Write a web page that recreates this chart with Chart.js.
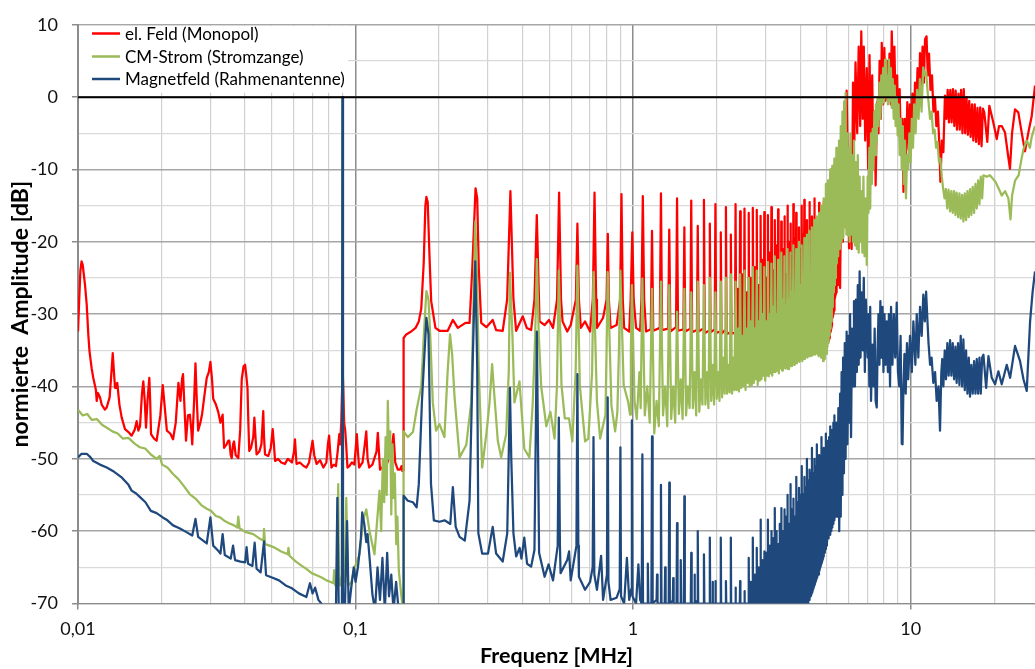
<!DOCTYPE html>
<html>
<head>
<meta charset="utf-8">
<script src="https://cdn.jsdelivr.net/npm/chart.js@4"></script>
<style>
  html, body { margin: 0; padding: 0; background: #fff; }
  #wrap { width: 1035px; height: 669px; overflow: hidden; position: relative; }
</style>
</head>
<body>
<div id="wrap"><canvas id="spectrumChart"></canvas></div>
<script>
// Legend texts and axis labels
const seriesNames = ['el. Feld (Monopol)', 'CM-Strom (Stromzange)', 'Magnetfeld (Rahmenantenne)'];
const decadeFreqs = [0.01, 0.1, 1, 10];
const decadeLabels = ['0,01', '0,1', '1', '10'];

// el. Feld (Monopol): [frequency MHz, dB]
const elFeldLow = [[0.0100,-32.4],[0.0101,-28],[0.0102,-24],[0.0103,-22.7],[0.0104,-23.2],[0.0106,-26],[0.01075,-28.7],[0.0109,-33],[0.0110,-35.1],[0.0112,-37.5],[0.01135,-38.8],[0.0116,-40.5],[0.01168,-42],[0.0118,-40.9],[0.0120,-41.5],[0.01217,-42.5],[0.0125,-43.2],[0.01269,-42.9],[0.0130,-41.5],[0.0132,-38],[0.01334,-35.4],[0.0135,-38.5],[0.0136,-40.2],[0.0137,-39.8],[0.01385,-39.5],[0.0141,-42.5],[0.01437,-44.3],[0.01477,-45.9],[0.0152,-46.3],[0.0156,-46.8],[0.0160,-46],[0.01627,-44.8],[0.0165,-46.1],[0.01673,-45.5],[0.0170,-41],[0.01719,-39.3],[0.0174,-42],[0.01758,-45.7],[0.0178,-42],[0.01807,-38.8],[0.0182,-42],[0.01833,-46.6],[0.0188,-47.2],[0.0192,-47.5],[0.0198,-44],[0.0202,-39.8],[0.0205,-42.5],[0.0209,-46.1],[0.0215,-46.5],[0.0220,-47.3],[0.0225,-45],[0.0230,-39.5],[0.0234,-42],[0.0237,-39],[0.0239,-38.3],[0.0242,-43],[0.0245,-47.5],[0.0249,-44],[0.0253,-43.9],[0.0256,-46],[0.0258,-48],[0.0262,-42],[0.0265,-36.8],[0.0268,-42],[0.0271,-46.1],[0.0276,-45],[0.0280,-43.8],[0.0286,-41],[0.0291,-38.8],[0.0296,-38],[0.0300,-36.6],[0.0304,-39],[0.0307,-41.7],[0.0314,-42.5],[0.0320,-43.5],[0.0326,-45],[0.0332,-43.9],[0.0336,-48.5],[0.0343,-48],[0.0348,-47.5],[0.0351,-47.5],[0.0355,-49.5],[0.0358,-49.9],[0.0362,-48],[0.0365,-47.6],[0.0370,-49.5],[0.0378,-49.9],[0.0384,-46],[0.0389,-39],[0.0395,-37.2],[0.0400,-37],[0.0404,-38.5],[0.0408,-40.2],[0.0411,-45],[0.0414,-48.9],[0.0420,-48.5],[0.0428,-47],[0.0432,-44.3],[0.0436,-47],[0.0440,-49.4],[0.0450,-49],[0.0458,-48],[0.0465,-43.4],[0.0468,-47],[0.0472,-49.4],[0.0485,-49.6],[0.0495,-48.5],[0.0503,-45.9],[0.0508,-48],[0.0513,-50.3],[0.0525,-50],[0.0540,-50.5],[0.0557,-50.7],[0.0570,-50],[0.0590,-50.5],[0.0600,-49],[0.0605,-47.3],[0.0610,-49.5],[0.0613,-50.7],[0.0630,-50.5],[0.0650,-51],[0.0665,-51.2],[0.0680,-50.5],[0.0690,-49],[0.0700,-47.5],[0.0710,-49.5],[0.0724,-50.7],[0.0745,-50.2],[0.0766,-51.2],[0.0785,-50.5],[0.0795,-48],[0.0803,-46.8],[0.0810,-49],[0.0819,-51.2],[0.0835,-50.8],[0.0850,-51],[0.0862,-49],[0.0874,-46.6],[0.0880,-48],[0.0888,-45],[0.0895,-40],[0.0898,-37.5],[0.0903,-40],[0.0910,-45],[0.0918,-46.1],[0.0925,-48],[0.0935,-51.2],[0.0950,-51],[0.0970,-50.5],[0.0990,-50.8],[0.1011,-46.6],[0.1020,-49],[0.1030,-51.2],[0.1060,-50.5],[0.1080,-48],[0.1093,-46.2],[0.1105,-50],[0.1120,-51.2],[0.1150,-50.8],[0.1190,-49],[0.1203,-46.4],[0.1225,-51.5],[0.1260,-51],[0.1300,-50.6],[0.1345,-49],[0.1370,-46.6],[0.1390,-50.5],[0.1420,-51.5],[0.1446,-51.5],[0.1465,-51],[0.1475,-51.7]];
const elFeldMid = [[0.1489,-51.6],[0.1490,-33.3],[0.1523,-32.8],[0.1587,-32.4],[0.1645,-31.9],[0.169,-31],[0.1725,-29.2],[0.176,-23],[0.1785,-15],[0.18,-13.8],[0.182,-14.5],[0.1847,-22],[0.1873,-28.2],[0.194,-31.9],[0.2006,-32.3],[0.2148,-32.3],[0.2242,-30.8],[0.2336,-31.9],[0.249,-31.2],[0.2575,-31.2],[0.2632,-24],[0.2706,-12.6],[0.2744,-14],[0.278,-23.7],[0.2837,-31.2],[0.296,-31.8],[0.312,-30.8],[0.321,-32.2],[0.339,-32.3],[0.3517,-28],[0.3614,-13],[0.3706,-28],[0.379,-32.3],[0.4004,-30.3],[0.414,-31.9],[0.4292,-32.2],[0.4412,-28],[0.4498,-16.3],[0.4602,-31],[0.480,-31.5],[0.4978,-30.8],[0.5147,-31.9],[0.532,-28],[0.5413,-13.2],[0.550,-28],[0.557,-31],[0.5791,-32.4],[0.596,-31.5],[0.622,-28],[0.63,-17.5],[0.638,-28],[0.648,-31.9],[0.6714,-31],[0.700,-32.4],[0.716,-28],[0.7262,-13.2],[0.736,-28],[0.741,-31.9],[0.7797,-30.5],[0.8025,-28],[0.8108,-18.9],[0.818,-28],[0.8296,-31.9],[0.8724,-31.5],[0.898,-28],[0.908,-13.4],[0.918,-28],[0.9284,-31.9],[0.9683,-32.4],[0.980,-28],[0.9935,-18.7],[1.005,-28],[1.025,-31.9],[1.06,-32.3],[1.072,-28],[1.084,-13.7],[1.096,-28],[1.114,-32.4]];
const elFeldComb = [[1.158,-32.1],[1.17,-18.5],[1.182,-32.3],[1.248,-31.9],[1.26,-13.3],[1.272,-32.2],[1.338,-32.0],[1.35,-18.3],[1.362,-32.4],[1.428,-31.8],[1.44,-14.0],[1.452,-32.3],[1.518,-32.1],[1.53,-18.0],[1.542,-32.4],[1.608,-32.0],[1.62,-14.3],[1.632,-32.5],[1.698,-32.2],[1.71,-17.8],[1.722,-32.4],[1.788,-32.0],[1.80,-14.2],[1.812,-32.6],[1.878,-32.3],[1.89,-17.5],[1.902,-32.5],[1.968,-32.1],[1.98,-14.8],[1.992,-32.6],[2.058,-32.4],[2.07,-18.7],[2.082,-32.7],[2.148,-32.2],[2.16,-15.2],[2.172,-32.8],[2.238,-32.5],[2.25,-19.0],[2.262,-32.7],[2.328,-32.6],[2.34,-14.8],[2.352,-33.0],[2.38,-32.8],[2.385,-26.5],[2.39,-33.1],[2.418,-32.9],[2.43,-15.8],[2.442,-33.0],[2.47,-33.1],[2.475,-24.5],[2.48,-33.2],[2.508,-32.7],[2.52,-15.4],[2.532,-33.1],[2.56,-32.9],[2.565,-27],[2.57,-33.2],[2.598,-33.0],[2.61,-16.0],[2.622,-33.2],[2.65,-33.1],[2.655,-25],[2.66,-33.3],[2.688,-32.8],[2.70,-15.3],[2.712,-33.1],[2.74,-33.2],[2.745,-23.5],[2.75,-33.3],[2.778,-33.0],[2.79,-15.6],[2.802,-33.3],[2.83,-33.1],[2.835,-26],[2.84,-33.4],[2.868,-33.1],[2.88,-16.4],[2.892,-33.2],[2.92,-33.3],[2.925,-22.5],[2.93,-33.4],[2.958,-33.0],[2.97,-15.9],[2.982,-33.4],[3.01,-33.2],[3.015,-25],[3.02,-33.5],[3.048,-33.2],[3.06,-16.3],[3.072,-33.3],[3.10,-33.4],[3.105,-21.5],[3.11,-33.5],[3.138,-33.1],[3.15,-15.2],[3.162,-33.4],[3.19,-33.3],[3.195,-24],[3.20,-33.6],[3.228,-33.3],[3.24,-17.0],[3.252,-33.5],[3.28,-33.4],[3.285,-20.5],[3.29,-33.6],[3.318,-33.2],[3.33,-15.5],[3.342,-33.5],[3.37,-33.5],[3.375,-23],[3.38,-33.7],[3.408,-33.4],[3.42,-17.2],[3.432,-33.6],[3.46,-33.5],[3.465,-21],[3.47,-33.7],[3.498,-33.3],[3.51,-16.5],[3.522,-33.6],[3.55,-33.6],[3.555,-24.5],[3.56,-33.8],[3.588,-33.5],[3.60,-15.0],[3.612,-33.7],[3.64,-33.6],[3.645,-20],[3.65,-33.8],[3.678,-33.4],[3.69,-17.5],[3.702,-33.8],[3.73,-33.7],[3.735,-22],[3.74,-33.9],[3.768,-33.6],[3.78,-14.8],[3.792,-33.7],[3.82,-33.8],[3.825,-19.5],[3.83,-33.9],[3.858,-33.5],[3.87,-16.0],[3.882,-33.9],[3.91,-33.7],[3.915,-23],[3.92,-34.0],[3.948,-33.6],[3.96,-18.0],[3.972,-33.8],[4.00,-33.9],[4.005,-21],[4.01,-34.0],[4.038,-33.7],[4.05,-15.0],[4.062,-34.0],[4.09,-33.8],[4.095,-19],[4.10,-34.1],[4.128,-33.8],[4.14,-14.2],[4.152,-33.9],[4.218,-34.0],[4.23,-17.0],[4.242,-33.8],[4.308,-33.9],[4.32,-14.5],[4.332,-34.1],[4.398,-33.7],[4.41,-16.5],[4.422,-34.0],[4.488,-34.1],[4.50,-14.0],[4.512,-33.8],[4.578,-33.9],[4.59,-18.0],[4.602,-34.2],[4.668,-33.8],[4.68,-14.6],[4.692,-34.0],[4.758,-34.1],[4.77,-20.0],[4.782,-33.9],[4.848,-33.7],[4.86,-14.4],[4.872,-34.1],[4.938,-33.9],[4.95,-16.0],[4.962,-33.6],[5.028,-33.5],[5.04,-14.0],[5.052,-33.8],[5.118,-33.2],[5.13,-19.0],[5.142,-32.5],[5.208,-31.5],[5.22,-15.0],[5.232,-30.5],[5.298,-29.5],[5.31,-22.0],[5.322,-28.0],[5.388,-27.0],[5.40,-14.7],[5.41,-24.0]];
const elFeldHigh = [[5.42,-11.7],[5.47,-26],[5.52,-14],[5.57,-26.4],[5.63,-8],[5.70,-20],[5.78,-3],[5.82,-15],[5.88,0.9],[5.94,-10],[6.00,-20.9],[6.06,-8],[6.13,-21],[6.20,2],[6.27,-6],[6.33,4.8],[6.42,-5],[6.50,7],[6.58,-4],[6.64,9.1],[6.72,-3],[6.78,7],[6.86,-6],[6.95,4],[7.03,-9.9],[7.11,5.8],[7.19,-8],[7.27,3],[7.35,-10],[7.42,-2],[7.48,-12.2],[7.57,-0.7],[7.66,-5],[7.73,5],[7.81,-3],[7.87,7.5],[7.96,-1],[8.04,6.8],[8.12,-0.5],[8.22,5],[8.31,0],[8.39,6],[8.48,-1],[8.55,9.1],[8.65,1],[8.74,7],[8.83,-2],[8.94,3],[9.04,-5],[9.13,1.1],[9.23,-8],[9.33,-3],[9.42,-13.1],[9.52,-3],[9.62,-8],[9.73,-0.7],[9.84,-7.2],[9.94,-1],[10.04,-6],[10.15,0.5],[10.27,-4],[10.37,2],[10.47,-2],[10.59,4],[10.70,-1],[10.81,6.1],[10.92,1],[11.04,7],[11.16,2],[11.27,8],[11.41,8.4],[11.53,3],[11.65,6],[11.79,1],[11.94,3],[12.08,-2],[12.23,0],[12.38,-4],[12.54,-2],[12.70,-7],[12.80,-11.7],[12.96,-6],[13.12,-7.6],[13.29,0.2],[13.45,-3],[13.60,1],[13.74,-3.5],[13.90,1],[14.05,-3.5],[14.21,1.1],[14.37,-4],[14.53,0.9],[14.69,-4.5],[14.87,0.5],[15.03,-4.5],[15.20,1],[15.37,-5],[15.54,1.1],[15.72,-5],[15.90,0],[16.08,-5.2],[16.26,-0.5],[16.45,-5.5],[16.64,-1],[16.82,-6],[17.02,-1],[17.21,-6.2],[17.41,-1.5],[17.61,-6.5],[17.81,-1.4],[18.01,-6.8],[18.22,-1.6],[18.42,-2.1],[18.89,-6.2],[19.21,-1.2],[19.86,-3.5],[20.43,-5.8],[20.82,-4],[21.29,-4],[21.88,-4.9],[22.43,-8],[22.80,-9.9],[23.19,-5],[23.77,-1.7],[24.43,-2.1],[25.13,-4.9],[25.82,-7.5],[26.55,-4.9],[27.31,-2.6],[28.06,1.6]];

// CM-Strom (Stromzange)
const cmStromLow = [[0.0100,-43.2],[0.0104,-44],[0.0108,-43.8],[0.0112,-44.6],[0.0117,-44.5],[0.0122,-45.3],[0.0127,-45.7],[0.0133,-46.2],[0.0139,-46.5],[0.0145,-47.2],[0.0152,-47.1],[0.0160,-47.9],[0.0167,-48.4],[0.0175,-48.6],[0.0183,-49.4],[0.0192,-50],[0.0197,-49.6],[0.0201,-50.8],[0.0210,-51.2],[0.0220,-52.1],[0.0230,-52.8],[0.0240,-53.7],[0.0253,-54.9],[0.0265,-55.5],[0.0278,-56.4],[0.0291,-56.9],[0.0302,-57.2],[0.0314,-57.9],[0.0325,-58.1],[0.0338,-58.6],[0.0350,-58.9],[0.0365,-59.2],[0.0375,-59.5],[0.0378,-58],[0.0382,-59.6],[0.0400,-60.1],[0.0428,-60.4],[0.0450,-61],[0.0466,-61.3],[0.0468,-59.7],[0.0472,-61.8],[0.0490,-62],[0.0506,-62.2],[0.0540,-62.8],[0.0570,-63.2],[0.0573,-62.3],[0.0578,-63.4],[0.0610,-64.2],[0.0640,-64.8],[0.0665,-65.2],[0.0695,-65.8],[0.0724,-66.1],[0.0755,-66.4],[0.0786,-66.8],[0.0810,-67],[0.0832,-67.2],[0.0838,-65.4],[0.0845,-67.5],[0.0858,-67],[0.0866,-53.5],[0.0872,-67],[0.0880,-67.5],[0.0893,-66],[0.0897,0],[0.0901,-66],[0.0915,-67],[0.0926,-55.4],[0.0940,-67.5],[0.0965,-67.1],[0.0992,-65],[0.1034,-63.2],[0.1063,-58.6],[0.1093,-57],[0.1123,-60],[0.117,-63.2],[0.122,-54.4],[0.1237,-60],[0.1254,-50],[0.1268,-56],[0.1283,-47],[0.1295,-55],[0.1307,-42],[0.1320,-50],[0.1334,-46.2],[0.1345,-57.7],[0.1358,-48],[0.137,-55.4],[0.1385,-52],[0.1402,-61.8],[0.1415,-58],[0.1432,-65.5],[0.146,-68.7],[0.1485,-71],[0.1489,-71]];
const cmStromMid = [[0.1490,-46.2],[0.1543,-47],[0.161,-46.3],[0.166,-43.2],[0.1725,-40],[0.176,-33.3],[0.18,-26.8],[0.1832,-28],[0.186,-33.3],[0.1898,-42.2],[0.195,-46.1],[0.2006,-45.2],[0.209,-47],[0.2148,-37.8],[0.219,-32.8],[0.2229,-35.6],[0.2273,-41.4],[0.237,-49.8],[0.2505,-48.1],[0.2611,-42.2],[0.266,-28.4],[0.27,-17.2],[0.2736,-23.9],[0.278,-37.8],[0.2859,-51.2],[0.296,-46.6],[0.304,-42.2],[0.3105,-36.9],[0.316,-41],[0.3255,-47.5],[0.3347,-49.8],[0.3489,-46.6],[0.3566,-37.8],[0.36,-24.3],[0.3675,-33],[0.3736,-42.2],[0.3896,-39.3],[0.4055,-48.6],[0.4231,-49.8],[0.4351,-42.2],[0.4438,-33],[0.45,-22.4],[0.4574,-33],[0.4666,-40],[0.4869,-45.5],[0.5036,-43.5],[0.5213,-47.2],[0.5318,-39.8],[0.54,-24],[0.5521,-39.8],[0.5675,-44.4],[0.5876,-44.4],[0.6041,-47.6],[0.6209,-38],[0.63,-23.3],[0.6427,-39.8],[0.6714,-47.6],[0.6897,-47.2],[0.7119,-38],[0.72,-24.2],[0.741,-42.1],[0.7608,-47.2],[0.7952,-43.9],[0.8025,-35],[0.81,-24.2],[0.8354,-42.6],[0.8616,-46.2],[0.8776,-43.5],[0.8893,-35],[0.90,-24],[0.9247,-39.8],[0.9594,-42.1],[0.975,-43.9],[0.982,-35],[0.99,-26],[1.012,-42],[1.031,-44.5],[1.054,-38],[1.065,-43]];
const cmStromComb = [[1.08,-25.1],[1.102,-44],[1.125,-40],[1.148,-45],[1.17,-26.5],[1.192,-46.5],[1.215,-42],[1.238,-45.5],[1.26,-25.5],[1.282,-44],[1.305,-40],[1.328,-45.5],[1.35,-26],[1.372,-44.5],[1.395,-40],[1.418,-45],[1.44,-29.7],[1.462,-43.8],[1.485,-39],[1.508,-44.5],[1.53,-26.5],[1.552,-44],[1.575,-40],[1.598,-43],[1.62,-27],[1.642,-43],[1.665,-38],[1.688,-44],[1.71,-25.5],[1.732,-43.5],[1.755,-39],[1.778,-42.5],[1.80,-26],[1.822,-42.5],[1.845,-38],[1.868,-43],[1.89,-25],[1.912,-42],[1.935,-37],[1.958,-42.5],[1.98,-27],[2.002,-41.7],[2.025,-38],[2.048,-42],[2.07,-25.5],[2.092,-41.5],[2.115,-36],[2.138,-41],[2.16,-25],[2.182,-41],[2.205,-37],[2.228,-40.8],[2.25,-24.5],[2.272,-41],[2.295,-36],[2.318,-40.5],[2.34,-25.5],[2.362,-40.5],[2.385,-32],[2.408,-40.7],[2.43,-24.5],[2.452,-40.2],[2.475,-33],[2.498,-40],[2.52,-24],[2.542,-40.5],[2.565,-32],[2.588,-39.5],[2.61,-25],[2.632,-40],[2.655,-31],[2.678,-39.8],[2.70,-23.5],[2.722,-39.5],[2.745,-32],[2.768,-39],[2.79,-24],[2.812,-39.8],[2.835,-31],[2.858,-39.2],[2.88,-23],[2.902,-39],[2.925,-30],[2.948,-38.5],[2.97,-23.5],[2.992,-39.2],[3.015,-31],[3.038,-38.5],[3.06,-22.8],[3.082,-38.6],[3.105,-30],[3.128,-38.2],[3.15,-23],[3.172,-38.5],[3.195,-29],[3.218,-38],[3.24,-22],[3.262,-38],[3.285,-30],[3.308,-37.8],[3.33,-22.5],[3.352,-38.2],[3.375,-29],[3.398,-37.5],[3.42,-21.5],[3.442,-37.8],[3.465,-28],[3.488,-37.3],[3.51,-22],[3.532,-37.5],[3.555,-29],[3.578,-37.4],[3.60,-21],[3.622,-37.6],[3.645,-28],[3.668,-37],[3.69,-21.5],[3.712,-37.2],[3.735,-27],[3.758,-36.8],[3.78,-20.5],[3.802,-37],[3.825,-28],[3.848,-36.8],[3.87,-21],[3.892,-36.8],[3.915,-27],[3.938,-36.5],[3.96,-20],[3.982,-36.6],[4.005,-26],[4.028,-36.2],[4.05,-20.5],[4.072,-36.5],[4.095,-27],[4.118,-36.2],[4.14,-19.5],[4.162,-36.2],[4.185,-26],[4.208,-35.9],[4.23,-19],[4.252,-36],[4.275,-25],[4.298,-35.8],[4.32,-18.5],[4.342,-35.8],[4.365,-26],[4.388,-35.6],[4.41,-18],[4.432,-35.7],[4.455,-25],[4.478,-35.5],[4.50,-17],[4.522,-35.6],[4.545,-24],[4.568,-35.4],[4.59,-16.5],[4.612,-35.5],[4.635,-24],[4.658,-35.8],[4.68,-16],[4.702,-35.6],[4.725,-23],[4.748,-36],[4.77,-15],[4.792,-36],[4.815,-23],[4.838,-36.5],[4.86,-14],[4.882,-36.2],[4.905,-22],[4.928,-35.5],[4.95,-12],[4.972,-35.5],[4.995,-21],[5.018,-34.5],[5.04,-11.5],[5.062,-34],[5.085,-20],[5.108,-33],[5.13,-10],[5.152,-32],[5.175,-19],[5.198,-31],[5.22,-9.5],[5.242,-29],[5.265,-18],[5.288,-27],[5.31,-8.5],[5.332,-26],[5.355,-17],[5.378,-25],[5.40,-7],[5.42,-23]];
const cmStromHigh = [[5.45,-8],[5.48,-22],[5.52,-6],[5.56,-21],[5.6,-4],[5.64,-20],[5.68,-2],[5.72,-19.5],[5.76,-0.6],[5.8,-18],[5.83,0.6],[5.87,-19],[5.91,-5],[5.95,-19.1],[5.99,-7],[6.03,-20],[6.07,-5],[6.11,-19],[6.15,-8],[6.2,-20],[6.25,-6],[6.3,-20.5],[6.35,-9],[6.4,-21],[6.45,-8],[6.5,-21.5],[6.55,-11],[6.6,-20],[6.65,-13],[6.7,-21.5],[6.76,-11],[6.82,-22],[6.88,-14],[6.95,-23.2],[7.0,-11],[7.05,-16],[7.1,-7],[7.15,-15.4],[7.2,-5],[7.25,-12],[7.3,-4.4],[7.35,-10],[7.4,-2],[7.45,-8],[7.5,-1],[7.55,-6.2],[7.6,0],[7.66,-4],[7.72,2],[7.78,-3],[7.84,3],[7.9,-1],[7.96,4],[8.02,-0.7],[8.09,5.2],[8.15,0],[8.22,3],[8.28,-1],[8.35,5.2],[8.42,-0.5],[8.49,4],[8.55,-1.5],[8.62,2.5],[8.69,-3],[8.76,1.6],[8.83,-4],[8.91,0],[8.98,-5.3],[9.05,-1],[9.13,-8],[9.21,-3],[9.29,-10],[9.37,-4],[9.45,-12],[9.54,-6],[9.62,-14],[9.71,-8],[9.8,-10],[9.9,-5],[10.0,-9],[10.1,-3],[10.2,-7],[10.3,-1],[10.42,-5],[10.55,1],[10.68,-3],[10.8,2.5],[10.95,-2],[11.1,4.1],[11.22,3],[11.37,3.5],[11.5,1],[11.62,-1],[11.75,-3],[11.9,-2],[12.05,-5],[12.2,-4.5],[12.35,-7],[12.5,-6.2],[12.65,-9],[12.8,-8.5],[12.95,-11],[13.1,-12.7],[13.25,-14],[13.4,-12.7],[13.55,-15.4],[13.7,-12.8],[13.87,-15.8],[14.02,-13],[14.18,-16],[14.34,-13],[14.5,-16.3],[14.65,-13.2],[14.82,-16.6],[14.99,-13.3],[15.15,-16.8],[15.33,-13.5],[15.49,-17.2],[15.67,-13.3],[15.84,-17],[16.02,-13],[16.2,-16.6],[16.37,-12.7],[16.55,-16.3],[16.74,-12.4],[16.93,-16],[17.12,-12],[17.31,-15.4],[17.5,-11.5],[17.7,-14.8],[17.89,-11],[18.1,-14],[18.29,-10.8],[18.8,-11],[19.3,-10.8],[19.8,-11.3],[20.2,-11.7],[20.8,-12.7],[21.3,-13.6],[21.9,-13],[22.5,-14],[22.9,-16.9],[23.2,-13.6],[23.8,-11.5],[24.5,-10.8],[25.1,-8.5],[25.5,-7.2],[26.2,-6],[26.9,-7],[27.3,-5.5],[28.06,-4]];

// Magnetfeld (Rahmenantenne)
const magnetLow = [[0.0100,-49.8],[0.0103,-49.3],[0.01075,-49.3],[0.0111,-49.8],[0.01135,-50.3],[0.0120,-50.8],[0.01269,-51.2],[0.0135,-51.8],[0.0144,-52.6],[0.0152,-53.6],[0.0156,-54.4],[0.0162,-54.8],[0.01673,-55.3],[0.0175,-56],[0.0183,-57.2],[0.0192,-57.5],[0.0202,-58.1],[0.0210,-58.5],[0.0220,-59.2],[0.0232,-59.6],[0.0245,-60.1],[0.0258,-60.6],[0.0265,-58.3],[0.0271,-60.8],[0.0280,-61.2],[0.0291,-61.7],[0.0300,-58.1],[0.0307,-62],[0.0320,-62.7],[0.0326,-63.1],[0.0332,-60.4],[0.0338,-63.3],[0.0355,-63.8],[0.0362,-62],[0.0368,-64],[0.0385,-64.2],[0.0400,-64.3],[0.0405,-62.2],[0.0410,-64.5],[0.0425,-64.8],[0.0433,-61.6],[0.0440,-65.2],[0.0455,-65.7],[0.0468,-61.4],[0.0476,-66.1],[0.0500,-66.4],[0.0530,-66.8],[0.0560,-67.5],[0.0590,-67.9],[0.0625,-68.6],[0.0665,-69.1],[0.0685,-67.2],[0.0700,-68.6],[0.0715,-67.8],[0.0735,-69.5],[0.0760,-70.2],[0.0790,-71],[0.0820,-71],[0.0850,-70.6],[0.0860,-55.4],[0.0870,-71],[0.0893,-71],[0.0897,0],[0.0901,-71],[0.0915,-71],[0.0932,-58.6],[0.0945,-71],[0.0965,-67.8],[0.0985,-65],[0.1000,-67],[0.1020,-65],[0.1045,-61],[0.1057,-57.4],[0.1075,-59],[0.1093,-61.5],[0.1105,-60.4],[0.1125,-64],[0.1150,-68.7],[0.1175,-71],[0.1200,-65],[0.1225,-69.5],[0.1250,-63.7],[0.1275,-71],[0.1300,-63],[0.1320,-69],[0.1345,-66],[0.1370,-71],[0.1400,-67],[0.1430,-71],[0.1489,-71]];
const magnetMid = [[0.149,-55.1],[0.1543,-55.8],[0.161,-56],[0.166,-56.7],[0.169,-53.5],[0.1735,-42],[0.18,-30.5],[0.1832,-32.8],[0.187,-53.5],[0.1915,-58.5],[0.2006,-58.7],[0.2093,-58.5],[0.2195,-59],[0.2242,-53.9],[0.2295,-59.4],[0.237,-60.8],[0.2475,-61.3],[0.2575,-55.8],[0.264,-37.4],[0.27,-22.7],[0.2744,-37.4],[0.277,-60.3],[0.2859,-63.1],[0.3,-63.1],[0.312,-59.4],[0.321,-63.1],[0.339,-64.2],[0.352,-60.3],[0.357,-48],[0.36,-40.2],[0.364,-50],[0.3706,-60.3],[0.379,-63.5],[0.39,-62.3],[0.396,-63.8],[0.4055,-60.9],[0.415,-64.5],[0.4292,-64.9],[0.4412,-62.6],[0.4465,-45],[0.45,-32.4],[0.4535,-45],[0.4585,-63],[0.480,-66.3],[0.496,-64.6],[0.5147,-66.8],[0.535,-62],[0.54,-44.3],[0.545,-62],[0.548,-65.8],[0.5791,-64],[0.588,-62.8],[0.596,-66.8],[0.625,-62],[0.63,-38.3],[0.635,-62],[0.638,-66.3],[0.6714,-68.1],[0.700,-67],[0.715,-65],[0.72,-47],[0.725,-66],[0.741,-68.1],[0.767,-63.4],[0.7797,-69.5],[0.805,-66],[0.81,-41.5],[0.815,-67],[0.8296,-69.5],[0.8724,-69.2],[0.895,-68],[0.90,-48.4],[0.905,-69],[0.9284,-70],[0.95,-63.7],[0.9683,-69.5],[0.985,-68],[0.99,-44.7],[0.995,-69],[1.025,-70],[1.045,-64.6],[1.06,-69.5],[1.074,-70],[1.08,-49.4],[1.086,-70]];
const magnetComb = [[1.125,-70],[1.13,-64.5],[1.135,-70],[1.164,-70],[1.17,-46.9],[1.176,-70],[1.215,-69.5],[1.22,-66],[1.225,-70],[1.254,-70],[1.26,-53.6],[1.266,-70],[1.30,-70],[1.305,-65],[1.31,-70],[1.344,-70],[1.35,-53.3],[1.356,-70],[1.39,-69.6],[1.395,-66.5],[1.40,-70],[1.434,-70],[1.44,-58.9],[1.446,-70],[1.48,-70],[1.485,-64],[1.49,-70],[1.524,-70],[1.53,-55.2],[1.536,-70],[1.614,-70],[1.62,-63],[1.626,-70],[1.66,-70],[1.665,-66],[1.67,-69.5],[1.704,-70],[1.71,-60],[1.716,-70],[1.794,-70],[1.80,-63.2],[1.806,-70],[1.884,-70],[1.89,-60.9],[1.896,-70],[1.93,-70],[1.935,-67],[1.94,-70],[1.974,-70],[1.98,-66.9],[1.986,-70],[2.064,-70],[2.07,-60.9],[2.076,-70],[2.154,-70],[2.16,-66.9],[2.166,-70],[2.244,-70],[2.25,-60.9],[2.256,-70],[2.334,-70],[2.34,-67.8],[2.346,-70],[2.424,-70],[2.43,-66.9],[2.436,-70],[2.514,-70],[2.52,-68.3],[2.526,-70],[2.604,-70],[2.61,-63.7],[2.616,-70],[2.65,-70],[2.655,-67],[2.66,-70],[2.694,-70],[2.70,-60.9],[2.706,-70],[2.74,-70],[2.745,-66],[2.75,-70],[2.784,-70],[2.79,-62.3],[2.796,-70],[2.83,-70],[2.835,-65],[2.84,-70],[2.874,-70],[2.88,-58.4],[2.886,-70],[2.92,-70],[2.925,-64],[2.93,-70],[2.964,-70],[2.97,-62.8],[2.976,-70],[3.01,-70],[3.015,-63],[3.02,-70],[3.054,-70],[3.06,-58.4],[3.066,-70],[3.10,-70],[3.105,-62],[3.11,-70],[3.144,-70],[3.15,-60],[3.156,-70],[3.19,-70],[3.195,-61],[3.20,-70],[3.234,-70],[3.24,-56.8],[3.246,-70],[3.28,-70],[3.285,-60],[3.29,-70],[3.324,-70],[3.33,-61.8],[3.336,-70],[3.37,-70],[3.375,-59],[3.38,-70],[3.414,-70],[3.42,-56.8],[3.426,-70],[3.46,-70],[3.465,-60],[3.47,-70],[3.504,-70],[3.51,-57],[3.516,-70],[3.55,-70],[3.555,-58],[3.56,-70],[3.594,-70],[3.60,-55],[3.606,-70],[3.64,-70],[3.645,-59],[3.65,-70],[3.684,-70],[3.69,-53.5],[3.696,-70],[3.73,-70],[3.735,-57],[3.74,-70],[3.774,-70],[3.78,-55.5],[3.786,-70],[3.82,-70],[3.825,-58],[3.83,-70],[3.864,-70],[3.87,-52.5],[3.876,-70],[3.91,-70],[3.915,-56],[3.92,-70],[3.954,-70],[3.96,-54],[3.966,-70],[4.00,-70],[4.005,-55],[4.01,-70],[4.044,-70],[4.05,-51],[4.056,-70],[4.09,-70],[4.095,-55],[4.10,-70],[4.134,-70],[4.14,-52.5],[4.146,-70],[4.18,-70],[4.185,-54],[4.19,-70],[4.224,-70],[4.23,-50],[4.236,-70],[4.27,-70],[4.275,-53],[4.28,-69.5],[4.314,-69.5],[4.32,-51.5],[4.326,-69],[4.36,-69],[4.365,-52],[4.37,-69],[4.404,-68.5],[4.41,-48.5],[4.416,-68.5],[4.45,-68],[4.455,-52],[4.46,-68],[4.494,-67.5],[4.50,-50],[4.506,-67.5],[4.54,-67],[4.545,-51],[4.55,-67],[4.584,-66.5],[4.59,-48],[4.596,-66.5],[4.63,-66],[4.635,-51],[4.64,-66],[4.674,-65.5],[4.68,-49.5],[4.686,-65.5],[4.72,-65],[4.725,-50],[4.73,-65],[4.764,-64.5],[4.77,-47],[4.776,-64.5],[4.81,-64],[4.815,-50],[4.82,-64],[4.854,-63.5],[4.86,-48.5],[4.866,-63],[4.90,-63],[4.905,-49],[4.91,-62.5],[4.944,-62.5],[4.95,-46.5],[4.956,-62],[4.99,-62],[4.995,-48],[5.00,-61.5],[5.034,-61.5],[5.04,-47.5],[5.046,-61],[5.08,-61],[5.085,-47],[5.09,-60.5],[5.124,-60.5],[5.13,-45.5],[5.136,-60],[5.17,-60],[5.175,-46],[5.18,-59.5],[5.214,-59.5],[5.22,-46],[5.226,-59],[5.26,-59],[5.265,-45],[5.27,-58.5],[5.304,-58.5],[5.31,-44],[5.316,-58],[5.35,-58],[5.355,-45],[5.36,-58],[5.394,-58],[5.40,-45],[5.406,-58]];
const magnetHigh = [[5.45,-58],[5.49,-43],[5.53,-60],[5.57,-41],[5.6,-58],[5.64,-38],[5.68,-55],[5.71,-36],[5.75,-52],[5.79,-34],[5.83,-50],[5.88,-32.4],[5.92,-48],[5.97,-33],[6.01,-45],[6.05,-30],[6.1,-47],[6.15,-32],[6.2,-40],[6.25,-28.2],[6.3,-40],[6.35,-28],[6.4,-38],[6.45,-26],[6.5,-37],[6.55,-24.1],[6.6,-36],[6.66,-27],[6.72,-35],[6.78,-25],[6.84,-38],[6.9,-28],[6.95,-31.5],[7.0,-36],[7.05,-30],[7.1,-40],[7.15,-29],[7.2,-42],[7.27,-34.2],[7.35,-40],[7.42,-32],[7.48,-42],[7.55,-42.9],[7.6,-35],[7.66,-30],[7.72,-37],[7.78,-28.2],[7.85,-36],[7.92,-29],[7.98,-38],[8.05,-30],[8.12,-37],[8.2,-31],[8.28,-38],[8.35,-30],[8.43,-40],[8.5,-29],[8.6,-37],[8.7,-30],[8.8,-36],[8.91,-28.4],[9.0,-38],[9.1,-40],[9.2,-33],[9.29,-47.9],[9.35,-48],[9.42,-40],[9.5,-35.5],[9.6,-41],[9.7,-34],[9.8,-39],[9.95,-33],[10.1,-38],[10.23,-31],[10.4,-37],[10.52,-30],[10.66,-36],[10.81,-29],[10.96,-33],[11.11,-27.3],[11.25,-31],[11.37,-26.9],[11.5,-31],[11.6,-34],[11.75,-37],[11.9,-36],[12.07,-39.5],[12.25,-38],[12.41,-42],[12.6,-40],[12.76,-46.1],[12.9,-38],[13.0,-36.2],[13.12,-40],[13.27,-35],[13.41,-39],[13.56,-34],[13.71,-38.5],[13.87,-33.6],[14.02,-38.5],[14.18,-34],[14.34,-39],[14.5,-34.5],[14.65,-39.5],[14.82,-34],[14.99,-39.8],[15.15,-33],[15.33,-40],[15.49,-33.5],[15.67,-40.5],[15.84,-35],[16.02,-41],[16.2,-36],[16.37,-41.4],[16.55,-37],[16.74,-41],[16.93,-36.5],[17.12,-41],[17.31,-36.2],[17.5,-41],[17.7,-36],[17.89,-41],[18.1,-36],[18.29,-35.6],[18.71,-40.2],[19.07,-35.8],[19.6,-38.8],[20.15,-39.7],[20.71,-37.9],[21.29,-39.7],[22.2,-37],[22.82,-38.8],[23.78,-34.4],[24.79,-36.5],[25.5,-39],[26.2,-40.6],[26.94,-31],[27.5,-27],[28.06,-24.1]];

const COLORS = ['#ff0000', '#9bbb59', '#1f497d'];
const FONT = 'Lato, "Open Sans", sans-serif';

// vertical grid lines: 1..9 in every decade, plus 20 MHz
const gridFreqs = [];
decadeFreqs.forEach(d => {
  for (let m = 1; m <= 9; m++) {
    const v = +(d * m).toPrecision(3);
    if (v <= 28) gridFreqs.push(v);
  }
});
gridFreqs.push(20);

const isDecade = v => decadeFreqs.some(d => Math.abs(d - v) < d * 1e-6);
const toXY = pts => pts.map(p => ({ x: p[0], y: p[1] }));

/**
 * Legend box inside the plot (top left) and the black 0 dB line
 */
const overlayPlugin = {
  id: 'overlay',
  afterDatasetsDraw(chart) {
    const { ctx, chartArea, scales } = chart;
    ctx.save();
    ctx.fillStyle = '#fff';
    ctx.fillRect(chartArea.left + 1, chartArea.top + 1, 269, 67);
    ctx.font = '17px ' + FONT;
    ctx.textBaseline = 'middle';
    const rows = [33.5, 56.5, 79];
    seriesNames.forEach((name, i) => {
      ctx.strokeStyle = COLORS[i];
      ctx.lineWidth = 2.5;
      ctx.beginPath();
      ctx.moveTo(92, rows[i]);
      ctx.lineTo(120, rows[i]);
      ctx.stroke();
      ctx.fillStyle = '#000';
      ctx.fillText(name, 125, rows[i] + 1);
    });
    // 0 dB reference line
    const y0 = scales.y.getPixelForValue(0);
    ctx.strokeStyle = '#000';
    ctx.lineWidth = 2;
    ctx.beginPath();
    ctx.moveTo(chartArea.left, y0);
    ctx.lineTo(chartArea.right, y0);
    ctx.stroke();
    ctx.restore();
  }
};

const ctx = document.getElementById('spectrumChart').getContext('2d');

new Chart(ctx, {
  type: 'line',
  data: {
    datasets: [
      {
        label: seriesNames[0],
        data: toXY([...elFeldLow, ...elFeldMid, ...elFeldComb, ...elFeldHigh]),
        borderColor: COLORS[0],
        order: 3
      },
      {
        label: seriesNames[1],
        data: toXY([...cmStromLow, ...cmStromMid, ...cmStromComb, ...cmStromHigh]),
        borderColor: COLORS[1],
        order: 2
      },
      {
        label: seriesNames[2],
        data: toXY([...magnetLow, ...magnetMid, ...magnetComb, ...magnetHigh]),
        borderColor: COLORS[2],
        order: 1
      }
    ].map(ds => Object.assign(ds, {
      borderWidth: 2.25,
      pointRadius: 0,
      tension: 0,
      fill: false,
      borderJoinStyle: 'round'
    }))
  },
  options: {
    animation: false,
    responsive: true,
    maintainAspectRatio: false,
    layout: { padding: { top: 22, right: 0, bottom: 0, left: 0 } },
    plugins: {
      legend: { display: false },
      tooltip: { enabled: false }
    },
    scales: {
      x: {
        type: 'logarithmic',
        min: 0.01,
        max: 28.06,
        afterBuildTicks: axis => { axis.ticks = gridFreqs.map(v => ({ value: v })); },
        afterFit: axis => { axis.height = 65.5; },
        border: { color: '#8c8c8c', width: 1 },
        grid: {
          color: c => isDecade(c.tick.value) ? '#8c8c8c' : '#d0d0d0',
          lineWidth: c => isDecade(c.tick.value) ? 1.5 : 1.2,
          tickColor: c => isDecade(c.tick.value) ? '#8c8c8c' : 'rgba(0,0,0,0)',
          tickLength: 6
        },
        ticks: {
          autoSkip: false,
          maxRotation: 0,
          padding: 9,
          color: '#111',
          font: { family: FONT, size: 18 },
          callback: v => {
            const i = decadeFreqs.findIndex(d => Math.abs(d - v) < d * 1e-6);
            return i >= 0 ? decadeLabels[i] : '';
          }
        },
        title: {
          display: true,
          text: 'Frequenz [MHz]',
          color: '#000',
          font: { family: FONT, size: 21.5, weight: 'bold' },
          padding: { top: 0, bottom: 0 }
        }
      },
      y: {
        min: -70,
        max: 10,
        afterFit: axis => { axis.width = 78; },
        border: { color: '#8c8c8c', width: 1 },
        grid: {
          color: c => c.tick.value % 10 === 0 ? '#a6a6a6' : '#d9d9d9',
          lineWidth: c => c.tick.value % 10 === 0 ? 1.5 : 1.2,
          tickColor: c => c.tick.value % 10 === 0 ? '#8c8c8c' : 'rgba(0,0,0,0)',
          tickLength: 6
        },
        ticks: {
          stepSize: 5,
          padding: 14,
          color: '#111',
          font: { family: FONT, size: 18 },
          callback: v => v % 10 === 0 ? String(v) : ''
        },
        title: {
          display: true,
          text: 'normierte  Amplitude [dB]',
          color: '#000',
          font: { family: FONT, size: 23, weight: 'bold' },
          padding: { top: 7, bottom: 0 }
        }
      }
    }
  },
  plugins: [overlayPlugin]
});
</script>
</body>
</html>
